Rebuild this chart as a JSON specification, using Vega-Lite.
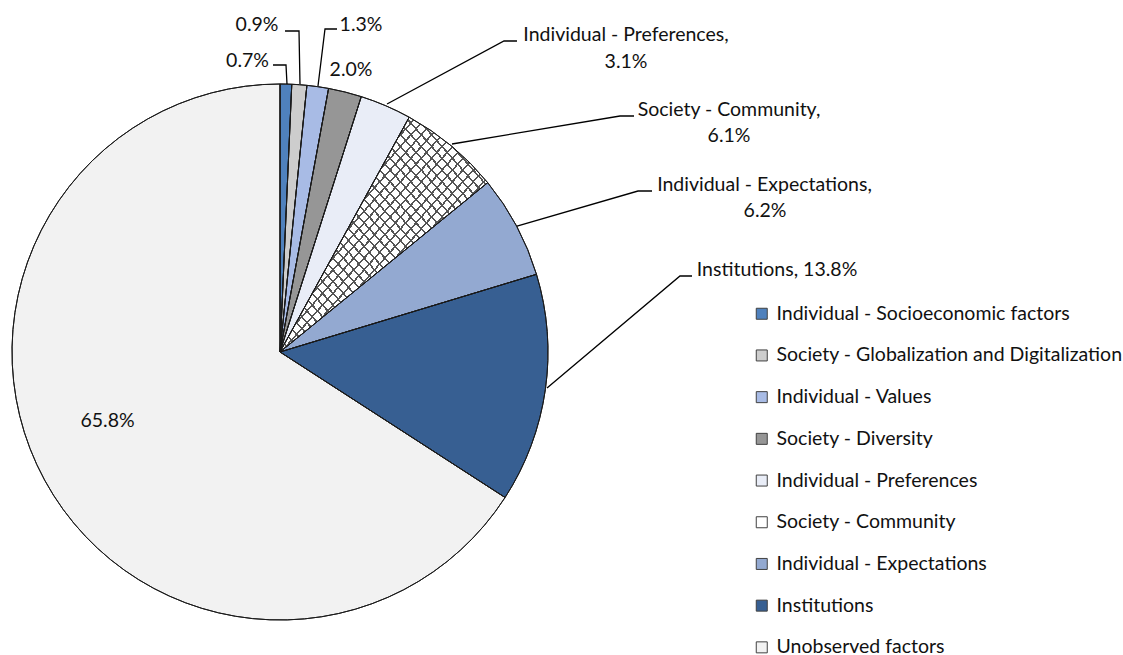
{
  "$schema": "https://vega.github.io/schema/vega-lite/v6.json",
  "width": 1123,
  "height": 655,
  "autosize": {"type": "none"},
  "padding": 0,
  "background": "white",
  "config": {"view": {"stroke": null}, "font": "Lato"},
  "datasets": {
    "slices": [
      {"cat": "Individual - Socioeconomic factors", "pct": 0.7, "ord": 1},
      {"cat": "Society - Globalization and Digitalization", "pct": 0.9, "ord": 2},
      {"cat": "Individual - Values", "pct": 1.3, "ord": 3},
      {"cat": "Society - Diversity", "pct": 2.0, "ord": 4},
      {"cat": "Individual - Preferences", "pct": 3.1, "ord": 5},
      {"cat": "Society - Community", "pct": 6.1, "ord": 6},
      {"cat": "Individual - Expectations", "pct": 6.2, "ord": 7},
      {"cat": "Institutions", "pct": 13.8, "ord": 8},
      {"cat": "Unobserved factors", "pct": 65.8, "ord": 9}
    ],
    "labels": [
      {"text": "0.7%", "x": -0.1213, "y": 1.0858},
      {"text": "0.9%", "x": -0.0858, "y": 1.2201},
      {"text": "1.3%", "x": 0.3022, "y": 1.2201},
      {"text": "2.0%", "x": 0.2649, "y": 1.0522},
      {"text": "Individual - Preferences,", "x": 1.2910, "y": 1.1828},
      {"text": "3.1%", "x": 1.2910, "y": 1.0821},
      {"text": "Society - Community,", "x": 1.6754, "y": 0.9030},
      {"text": "6.1%", "x": 1.6754, "y": 0.8060},
      {"text": "Individual - Expectations,", "x": 1.8078, "y": 0.6231},
      {"text": "6.2%", "x": 1.8097, "y": 0.5261},
      {"text": "Institutions, 13.8%", "x": 1.8545, "y": 0.3060},
      {"text": "65.8%", "x": -0.6437, "y": -0.2575}
    ],
    "leaders": [
      {"line": "L1", "seq": 1, "x": -0.0261, "y": 1.0709},
      {"line": "L1", "seq": 2, "x": 0.0224, "y": 1.0709},
      {"line": "L1", "seq": 3, "x": 0.0261, "y": 1.0},
      {"line": "L2", "seq": 1, "x": 0.0187, "y": 1.1978},
      {"line": "L2", "seq": 2, "x": 0.0709, "y": 1.1978},
      {"line": "L2", "seq": 3, "x": 0.0746, "y": 1.0},
      {"line": "L3", "seq": 1, "x": 0.2127, "y": 1.2052},
      {"line": "L3", "seq": 2, "x": 0.1679, "y": 1.2052},
      {"line": "L3", "seq": 3, "x": 0.1418, "y": 0.9925},
      {"line": "L4", "seq": 1, "x": 0.3993, "y": 0.9254},
      {"line": "L4", "seq": 2, "x": 0.8358, "y": 1.1604},
      {"line": "L4", "seq": 3, "x": 0.8843, "y": 1.1604},
      {"line": "L5", "seq": 1, "x": 0.6418, "y": 0.7761},
      {"line": "L5", "seq": 2, "x": 1.2687, "y": 0.8806},
      {"line": "L5", "seq": 3, "x": 1.3209, "y": 0.8806},
      {"line": "L6", "seq": 1, "x": 0.8843, "y": 0.4701},
      {"line": "L6", "seq": 2, "x": 1.3358, "y": 0.6007},
      {"line": "L6", "seq": 3, "x": 1.3881, "y": 0.6007},
      {"line": "L7", "seq": 1, "x": 0.9963, "y": -0.1343},
      {"line": "L7", "seq": 2, "x": 1.4925, "y": 0.2836},
      {"line": "L7", "seq": 3, "x": 1.5373, "y": 0.2836}
    ]
  },
  "layer": [
    {
      "data": {"name": "slices"},
      "mark": {"type": "arc", "outerRadius": 268, "stroke": "#1a1a1a", "strokeWidth": 1},
      "encoding": {
        "x": {"datum": 0, "type": "quantitative", "scale": {"domain": [-1.04478, 3.14552], "nice": false, "zero": false}, "axis": null},
        "y": {"datum": 0, "type": "quantitative", "scale": {"domain": [-1.1306, 1.31343], "nice": false, "zero": false}, "axis": null},
        "theta": {"field": "pct", "type": "quantitative", "stack": true},
        "order": {"field": "ord", "type": "quantitative"},
        "color": {
          "field": "cat",
          "type": "nominal",
          "sort": null,
          "scale": {
            "domain": ["Individual - Socioeconomic factors", "Society - Globalization and Digitalization", "Individual - Values", "Society - Diversity", "Individual - Preferences", "Society - Community", "Individual - Expectations", "Institutions", "Unobserved factors"],
            "range": ["#4F81BD", "#CDCDCD", "#A8BBE5", "#969696", "#E9EDF7", "#FFFFFF", "#93A9D1", "#375F92", "#F2F2F2"]
          },
          "legend": {
            "orient": "none",
            "legendX": 752,
            "legendY": 304,
            "title": null,
            "padding": 0,
            "labelFont": "Lato",
            "labelFontSize": 19.5,
            "labelColor": "#111111",
            "labelLimit": 400,
            "labelOffset": 5,
            "symbolType": "square",
            "symbolSize": 121,
            "symbolStrokeColor": "#404040",
            "symbolStrokeWidth": 1,
            "rowPadding": 20.7
          }
        }
      }
    },
    {
      "data": {"name": "slices"},
      "mark": {"type": "arc", "outerRadius": 268, "strokeWidth": 0},
      "encoding": {
        "x": {"datum": 0, "type": "quantitative"},
        "y": {"datum": 0, "type": "quantitative"},
        "theta": {"field": "pct", "type": "quantitative", "stack": true},
        "order": {"field": "ord", "type": "quantitative"},
        "fill": {
          "condition": {
            "test": "datum.cat === 'Society - Community'",
            "value": {"gradient": "linear", "x1": 0, "y1": 0, "x2": 1, "y2": 1, "stops": [
              {"offset": 0, "color": "#555555"}, {"offset": 0.005, "color": "#555555"}, {"offset": 0.005, "color": "rgba(255,255,255,0)"}, {"offset": 0.025, "color": "rgba(255,255,255,0)"},
              {"offset": 0.025, "color": "#555555"}, {"offset": 0.03, "color": "#555555"}, {"offset": 0.03, "color": "rgba(255,255,255,0)"}, {"offset": 0.05, "color": "rgba(255,255,255,0)"},
              {"offset": 0.05, "color": "#555555"}, {"offset": 0.055, "color": "#555555"}, {"offset": 0.055, "color": "rgba(255,255,255,0)"}, {"offset": 0.075, "color": "rgba(255,255,255,0)"},
              {"offset": 0.075, "color": "#555555"}, {"offset": 0.08, "color": "#555555"}, {"offset": 0.08, "color": "rgba(255,255,255,0)"}, {"offset": 0.1, "color": "rgba(255,255,255,0)"},
              {"offset": 0.1, "color": "#555555"}, {"offset": 0.105, "color": "#555555"}, {"offset": 0.105, "color": "rgba(255,255,255,0)"}, {"offset": 0.125, "color": "rgba(255,255,255,0)"},
              {"offset": 0.125, "color": "#555555"}, {"offset": 0.13, "color": "#555555"}, {"offset": 0.13, "color": "rgba(255,255,255,0)"}, {"offset": 0.15, "color": "rgba(255,255,255,0)"},
              {"offset": 0.15, "color": "#555555"}, {"offset": 0.155, "color": "#555555"}, {"offset": 0.155, "color": "rgba(255,255,255,0)"}, {"offset": 0.175, "color": "rgba(255,255,255,0)"},
              {"offset": 0.175, "color": "#555555"}, {"offset": 0.18, "color": "#555555"}, {"offset": 0.18, "color": "rgba(255,255,255,0)"}, {"offset": 0.2, "color": "rgba(255,255,255,0)"},
              {"offset": 0.2, "color": "#555555"}, {"offset": 0.205, "color": "#555555"}, {"offset": 0.205, "color": "rgba(255,255,255,0)"}, {"offset": 0.225, "color": "rgba(255,255,255,0)"},
              {"offset": 0.225, "color": "#555555"}, {"offset": 0.23, "color": "#555555"}, {"offset": 0.23, "color": "rgba(255,255,255,0)"}, {"offset": 0.25, "color": "rgba(255,255,255,0)"},
              {"offset": 0.25, "color": "#555555"}, {"offset": 0.255, "color": "#555555"}, {"offset": 0.255, "color": "rgba(255,255,255,0)"}, {"offset": 0.275, "color": "rgba(255,255,255,0)"},
              {"offset": 0.275, "color": "#555555"}, {"offset": 0.28, "color": "#555555"}, {"offset": 0.28, "color": "rgba(255,255,255,0)"}, {"offset": 0.3, "color": "rgba(255,255,255,0)"},
              {"offset": 0.3, "color": "#555555"}, {"offset": 0.305, "color": "#555555"}, {"offset": 0.305, "color": "rgba(255,255,255,0)"}, {"offset": 0.325, "color": "rgba(255,255,255,0)"},
              {"offset": 0.325, "color": "#555555"}, {"offset": 0.33, "color": "#555555"}, {"offset": 0.33, "color": "rgba(255,255,255,0)"}, {"offset": 0.35, "color": "rgba(255,255,255,0)"},
              {"offset": 0.35, "color": "#555555"}, {"offset": 0.355, "color": "#555555"}, {"offset": 0.355, "color": "rgba(255,255,255,0)"}, {"offset": 0.375, "color": "rgba(255,255,255,0)"},
              {"offset": 0.375, "color": "#555555"}, {"offset": 0.38, "color": "#555555"}, {"offset": 0.38, "color": "rgba(255,255,255,0)"}, {"offset": 0.4, "color": "rgba(255,255,255,0)"},
              {"offset": 0.4, "color": "#555555"}, {"offset": 0.405, "color": "#555555"}, {"offset": 0.405, "color": "rgba(255,255,255,0)"}, {"offset": 0.425, "color": "rgba(255,255,255,0)"},
              {"offset": 0.425, "color": "#555555"}, {"offset": 0.43, "color": "#555555"}, {"offset": 0.43, "color": "rgba(255,255,255,0)"}, {"offset": 0.45, "color": "rgba(255,255,255,0)"},
              {"offset": 0.45, "color": "#555555"}, {"offset": 0.455, "color": "#555555"}, {"offset": 0.455, "color": "rgba(255,255,255,0)"}, {"offset": 0.475, "color": "rgba(255,255,255,0)"},
              {"offset": 0.475, "color": "#555555"}, {"offset": 0.48, "color": "#555555"}, {"offset": 0.48, "color": "rgba(255,255,255,0)"}, {"offset": 0.5, "color": "rgba(255,255,255,0)"},
              {"offset": 0.5, "color": "#555555"}, {"offset": 0.505, "color": "#555555"}, {"offset": 0.505, "color": "rgba(255,255,255,0)"}, {"offset": 0.525, "color": "rgba(255,255,255,0)"},
              {"offset": 0.525, "color": "#555555"}, {"offset": 0.53, "color": "#555555"}, {"offset": 0.53, "color": "rgba(255,255,255,0)"}, {"offset": 0.55, "color": "rgba(255,255,255,0)"},
              {"offset": 0.55, "color": "#555555"}, {"offset": 0.555, "color": "#555555"}, {"offset": 0.555, "color": "rgba(255,255,255,0)"}, {"offset": 0.575, "color": "rgba(255,255,255,0)"},
              {"offset": 0.575, "color": "#555555"}, {"offset": 0.58, "color": "#555555"}, {"offset": 0.58, "color": "rgba(255,255,255,0)"}, {"offset": 0.6, "color": "rgba(255,255,255,0)"},
              {"offset": 0.6, "color": "#555555"}, {"offset": 0.605, "color": "#555555"}, {"offset": 0.605, "color": "rgba(255,255,255,0)"}, {"offset": 0.625, "color": "rgba(255,255,255,0)"},
              {"offset": 0.625, "color": "#555555"}, {"offset": 0.63, "color": "#555555"}, {"offset": 0.63, "color": "rgba(255,255,255,0)"}, {"offset": 0.65, "color": "rgba(255,255,255,0)"},
              {"offset": 0.65, "color": "#555555"}, {"offset": 0.655, "color": "#555555"}, {"offset": 0.655, "color": "rgba(255,255,255,0)"}, {"offset": 0.675, "color": "rgba(255,255,255,0)"},
              {"offset": 0.675, "color": "#555555"}, {"offset": 0.68, "color": "#555555"}, {"offset": 0.68, "color": "rgba(255,255,255,0)"}, {"offset": 0.7, "color": "rgba(255,255,255,0)"},
              {"offset": 0.7, "color": "#555555"}, {"offset": 0.705, "color": "#555555"}, {"offset": 0.705, "color": "rgba(255,255,255,0)"}, {"offset": 0.725, "color": "rgba(255,255,255,0)"},
              {"offset": 0.725, "color": "#555555"}, {"offset": 0.73, "color": "#555555"}, {"offset": 0.73, "color": "rgba(255,255,255,0)"}, {"offset": 0.75, "color": "rgba(255,255,255,0)"},
              {"offset": 0.75, "color": "#555555"}, {"offset": 0.755, "color": "#555555"}, {"offset": 0.755, "color": "rgba(255,255,255,0)"}, {"offset": 0.775, "color": "rgba(255,255,255,0)"},
              {"offset": 0.775, "color": "#555555"}, {"offset": 0.78, "color": "#555555"}, {"offset": 0.78, "color": "rgba(255,255,255,0)"}, {"offset": 0.8, "color": "rgba(255,255,255,0)"},
              {"offset": 0.8, "color": "#555555"}, {"offset": 0.805, "color": "#555555"}, {"offset": 0.805, "color": "rgba(255,255,255,0)"}, {"offset": 0.825, "color": "rgba(255,255,255,0)"},
              {"offset": 0.825, "color": "#555555"}, {"offset": 0.83, "color": "#555555"}, {"offset": 0.83, "color": "rgba(255,255,255,0)"}, {"offset": 0.85, "color": "rgba(255,255,255,0)"},
              {"offset": 0.85, "color": "#555555"}, {"offset": 0.855, "color": "#555555"}, {"offset": 0.855, "color": "rgba(255,255,255,0)"}, {"offset": 0.875, "color": "rgba(255,255,255,0)"},
              {"offset": 0.875, "color": "#555555"}, {"offset": 0.88, "color": "#555555"}, {"offset": 0.88, "color": "rgba(255,255,255,0)"}, {"offset": 0.9, "color": "rgba(255,255,255,0)"},
              {"offset": 0.9, "color": "#555555"}, {"offset": 0.905, "color": "#555555"}, {"offset": 0.905, "color": "rgba(255,255,255,0)"}, {"offset": 0.925, "color": "rgba(255,255,255,0)"},
              {"offset": 0.925, "color": "#555555"}, {"offset": 0.93, "color": "#555555"}, {"offset": 0.93, "color": "rgba(255,255,255,0)"}, {"offset": 0.95, "color": "rgba(255,255,255,0)"},
              {"offset": 0.95, "color": "#555555"}, {"offset": 0.955, "color": "#555555"}, {"offset": 0.955, "color": "rgba(255,255,255,0)"}, {"offset": 0.975, "color": "rgba(255,255,255,0)"},
              {"offset": 0.975, "color": "#555555"}, {"offset": 0.98, "color": "#555555"}, {"offset": 0.98, "color": "rgba(255,255,255,0)"}, {"offset": 1, "color": "rgba(255,255,255,0)"}
            ]}
          },
          "value": "rgba(255,255,255,0)"
        }
      }
    },
    {
      "data": {"name": "slices"},
      "mark": {"type": "arc", "outerRadius": 268, "stroke": "#1a1a1a", "strokeWidth": 1},
      "encoding": {
        "x": {"datum": 0, "type": "quantitative"},
        "y": {"datum": 0, "type": "quantitative"},
        "theta": {"field": "pct", "type": "quantitative", "stack": true},
        "order": {"field": "ord", "type": "quantitative"},
        "fill": {
          "condition": {
            "test": "datum.cat === 'Society - Community'",
            "value": {"gradient": "linear", "x1": 0, "y1": 1, "x2": 1, "y2": 0, "stops": [
              {"offset": 0, "color": "#555555"}, {"offset": 0.005, "color": "#555555"}, {"offset": 0.005, "color": "rgba(255,255,255,0)"}, {"offset": 0.025, "color": "rgba(255,255,255,0)"},
              {"offset": 0.025, "color": "#555555"}, {"offset": 0.03, "color": "#555555"}, {"offset": 0.03, "color": "rgba(255,255,255,0)"}, {"offset": 0.05, "color": "rgba(255,255,255,0)"},
              {"offset": 0.05, "color": "#555555"}, {"offset": 0.055, "color": "#555555"}, {"offset": 0.055, "color": "rgba(255,255,255,0)"}, {"offset": 0.075, "color": "rgba(255,255,255,0)"},
              {"offset": 0.075, "color": "#555555"}, {"offset": 0.08, "color": "#555555"}, {"offset": 0.08, "color": "rgba(255,255,255,0)"}, {"offset": 0.1, "color": "rgba(255,255,255,0)"},
              {"offset": 0.1, "color": "#555555"}, {"offset": 0.105, "color": "#555555"}, {"offset": 0.105, "color": "rgba(255,255,255,0)"}, {"offset": 0.125, "color": "rgba(255,255,255,0)"},
              {"offset": 0.125, "color": "#555555"}, {"offset": 0.13, "color": "#555555"}, {"offset": 0.13, "color": "rgba(255,255,255,0)"}, {"offset": 0.15, "color": "rgba(255,255,255,0)"},
              {"offset": 0.15, "color": "#555555"}, {"offset": 0.155, "color": "#555555"}, {"offset": 0.155, "color": "rgba(255,255,255,0)"}, {"offset": 0.175, "color": "rgba(255,255,255,0)"},
              {"offset": 0.175, "color": "#555555"}, {"offset": 0.18, "color": "#555555"}, {"offset": 0.18, "color": "rgba(255,255,255,0)"}, {"offset": 0.2, "color": "rgba(255,255,255,0)"},
              {"offset": 0.2, "color": "#555555"}, {"offset": 0.205, "color": "#555555"}, {"offset": 0.205, "color": "rgba(255,255,255,0)"}, {"offset": 0.225, "color": "rgba(255,255,255,0)"},
              {"offset": 0.225, "color": "#555555"}, {"offset": 0.23, "color": "#555555"}, {"offset": 0.23, "color": "rgba(255,255,255,0)"}, {"offset": 0.25, "color": "rgba(255,255,255,0)"},
              {"offset": 0.25, "color": "#555555"}, {"offset": 0.255, "color": "#555555"}, {"offset": 0.255, "color": "rgba(255,255,255,0)"}, {"offset": 0.275, "color": "rgba(255,255,255,0)"},
              {"offset": 0.275, "color": "#555555"}, {"offset": 0.28, "color": "#555555"}, {"offset": 0.28, "color": "rgba(255,255,255,0)"}, {"offset": 0.3, "color": "rgba(255,255,255,0)"},
              {"offset": 0.3, "color": "#555555"}, {"offset": 0.305, "color": "#555555"}, {"offset": 0.305, "color": "rgba(255,255,255,0)"}, {"offset": 0.325, "color": "rgba(255,255,255,0)"},
              {"offset": 0.325, "color": "#555555"}, {"offset": 0.33, "color": "#555555"}, {"offset": 0.33, "color": "rgba(255,255,255,0)"}, {"offset": 0.35, "color": "rgba(255,255,255,0)"},
              {"offset": 0.35, "color": "#555555"}, {"offset": 0.355, "color": "#555555"}, {"offset": 0.355, "color": "rgba(255,255,255,0)"}, {"offset": 0.375, "color": "rgba(255,255,255,0)"},
              {"offset": 0.375, "color": "#555555"}, {"offset": 0.38, "color": "#555555"}, {"offset": 0.38, "color": "rgba(255,255,255,0)"}, {"offset": 0.4, "color": "rgba(255,255,255,0)"},
              {"offset": 0.4, "color": "#555555"}, {"offset": 0.405, "color": "#555555"}, {"offset": 0.405, "color": "rgba(255,255,255,0)"}, {"offset": 0.425, "color": "rgba(255,255,255,0)"},
              {"offset": 0.425, "color": "#555555"}, {"offset": 0.43, "color": "#555555"}, {"offset": 0.43, "color": "rgba(255,255,255,0)"}, {"offset": 0.45, "color": "rgba(255,255,255,0)"},
              {"offset": 0.45, "color": "#555555"}, {"offset": 0.455, "color": "#555555"}, {"offset": 0.455, "color": "rgba(255,255,255,0)"}, {"offset": 0.475, "color": "rgba(255,255,255,0)"},
              {"offset": 0.475, "color": "#555555"}, {"offset": 0.48, "color": "#555555"}, {"offset": 0.48, "color": "rgba(255,255,255,0)"}, {"offset": 0.5, "color": "rgba(255,255,255,0)"},
              {"offset": 0.5, "color": "#555555"}, {"offset": 0.505, "color": "#555555"}, {"offset": 0.505, "color": "rgba(255,255,255,0)"}, {"offset": 0.525, "color": "rgba(255,255,255,0)"},
              {"offset": 0.525, "color": "#555555"}, {"offset": 0.53, "color": "#555555"}, {"offset": 0.53, "color": "rgba(255,255,255,0)"}, {"offset": 0.55, "color": "rgba(255,255,255,0)"},
              {"offset": 0.55, "color": "#555555"}, {"offset": 0.555, "color": "#555555"}, {"offset": 0.555, "color": "rgba(255,255,255,0)"}, {"offset": 0.575, "color": "rgba(255,255,255,0)"},
              {"offset": 0.575, "color": "#555555"}, {"offset": 0.58, "color": "#555555"}, {"offset": 0.58, "color": "rgba(255,255,255,0)"}, {"offset": 0.6, "color": "rgba(255,255,255,0)"},
              {"offset": 0.6, "color": "#555555"}, {"offset": 0.605, "color": "#555555"}, {"offset": 0.605, "color": "rgba(255,255,255,0)"}, {"offset": 0.625, "color": "rgba(255,255,255,0)"},
              {"offset": 0.625, "color": "#555555"}, {"offset": 0.63, "color": "#555555"}, {"offset": 0.63, "color": "rgba(255,255,255,0)"}, {"offset": 0.65, "color": "rgba(255,255,255,0)"},
              {"offset": 0.65, "color": "#555555"}, {"offset": 0.655, "color": "#555555"}, {"offset": 0.655, "color": "rgba(255,255,255,0)"}, {"offset": 0.675, "color": "rgba(255,255,255,0)"},
              {"offset": 0.675, "color": "#555555"}, {"offset": 0.68, "color": "#555555"}, {"offset": 0.68, "color": "rgba(255,255,255,0)"}, {"offset": 0.7, "color": "rgba(255,255,255,0)"},
              {"offset": 0.7, "color": "#555555"}, {"offset": 0.705, "color": "#555555"}, {"offset": 0.705, "color": "rgba(255,255,255,0)"}, {"offset": 0.725, "color": "rgba(255,255,255,0)"},
              {"offset": 0.725, "color": "#555555"}, {"offset": 0.73, "color": "#555555"}, {"offset": 0.73, "color": "rgba(255,255,255,0)"}, {"offset": 0.75, "color": "rgba(255,255,255,0)"},
              {"offset": 0.75, "color": "#555555"}, {"offset": 0.755, "color": "#555555"}, {"offset": 0.755, "color": "rgba(255,255,255,0)"}, {"offset": 0.775, "color": "rgba(255,255,255,0)"},
              {"offset": 0.775, "color": "#555555"}, {"offset": 0.78, "color": "#555555"}, {"offset": 0.78, "color": "rgba(255,255,255,0)"}, {"offset": 0.8, "color": "rgba(255,255,255,0)"},
              {"offset": 0.8, "color": "#555555"}, {"offset": 0.805, "color": "#555555"}, {"offset": 0.805, "color": "rgba(255,255,255,0)"}, {"offset": 0.825, "color": "rgba(255,255,255,0)"},
              {"offset": 0.825, "color": "#555555"}, {"offset": 0.83, "color": "#555555"}, {"offset": 0.83, "color": "rgba(255,255,255,0)"}, {"offset": 0.85, "color": "rgba(255,255,255,0)"},
              {"offset": 0.85, "color": "#555555"}, {"offset": 0.855, "color": "#555555"}, {"offset": 0.855, "color": "rgba(255,255,255,0)"}, {"offset": 0.875, "color": "rgba(255,255,255,0)"},
              {"offset": 0.875, "color": "#555555"}, {"offset": 0.88, "color": "#555555"}, {"offset": 0.88, "color": "rgba(255,255,255,0)"}, {"offset": 0.9, "color": "rgba(255,255,255,0)"},
              {"offset": 0.9, "color": "#555555"}, {"offset": 0.905, "color": "#555555"}, {"offset": 0.905, "color": "rgba(255,255,255,0)"}, {"offset": 0.925, "color": "rgba(255,255,255,0)"},
              {"offset": 0.925, "color": "#555555"}, {"offset": 0.93, "color": "#555555"}, {"offset": 0.93, "color": "rgba(255,255,255,0)"}, {"offset": 0.95, "color": "rgba(255,255,255,0)"},
              {"offset": 0.95, "color": "#555555"}, {"offset": 0.955, "color": "#555555"}, {"offset": 0.955, "color": "rgba(255,255,255,0)"}, {"offset": 0.975, "color": "rgba(255,255,255,0)"},
              {"offset": 0.975, "color": "#555555"}, {"offset": 0.98, "color": "#555555"}, {"offset": 0.98, "color": "rgba(255,255,255,0)"}, {"offset": 1, "color": "rgba(255,255,255,0)"}
            ]}
          },
          "value": "rgba(255,255,255,0)"
        }
      }
    },
    {
      "data": {"name": "leaders"},
      "mark": {"type": "line", "stroke": "#000000", "strokeWidth": 1.3, "interpolate": "linear"},
      "encoding": {
        "x": {"field": "x", "type": "quantitative"},
        "y": {"field": "y", "type": "quantitative"},
        "detail": {"field": "line", "type": "nominal"},
        "order": {"field": "seq", "type": "quantitative"}
      }
    },
    {
      "data": {"name": "labels"},
      "mark": {"type": "text", "font": "Lato", "fontSize": 19.5, "color": "#111111", "align": "center", "baseline": "middle"},
      "encoding": {
        "x": {"field": "x", "type": "quantitative"},
        "y": {"field": "y", "type": "quantitative"},
        "text": {"field": "text", "type": "nominal"}
      }
    }
  ]
}
